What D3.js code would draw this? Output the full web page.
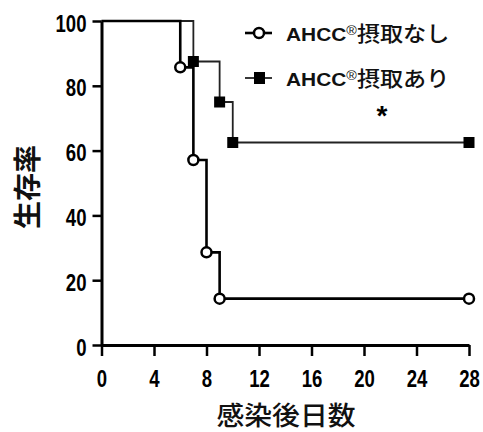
<!DOCTYPE html>
<html>
<head>
<meta charset="utf-8">
<script src="https://cdn.jsdelivr.net/npm/d3@7"></script>
<style>
html,body{margin:0;padding:0;background:#fff;}
svg{display:block;}
</style>
</head>
<body>
<script>
const daysNone = [0, 6, 7, 8, 9, 28];
const survNone = [100, 85.7, 57.1, 28.6, 14.3, 14.3];
const daysAhcc = [0, 7, 9, 10, 28];
const survAhcc = [100, 87.5, 75, 62.5, 62.5];
const seriesNames = ["AHCC", "摂取なし", "摂取あり"];
const xTicks = [0, 4, 8, 12, 16, 20, 24, 28];
const yTicks = [0, 20, 40, 60, 80, 100];
const xTitle = "感染後日数";
const yTitle = "生存率";

const W = 483, H = 432;
const svg = d3.select("body").append("svg").attr("width", W).attr("height", H);

const x = d3.scaleLinear().domain([0, 28]).range([101.5, 469]);
const y = d3.scaleLinear().domain([0, 100]).range([345, 21]);

const tickFont = "'Liberation Sans',Arial,sans-serif";

// axes
const xAxis = svg.append("g").attr("transform", `translate(0,${y(0)})`)
  .call(d3.axisBottom(x).tickValues(xTicks).tickSize(11).tickPadding(5).tickSizeOuter(0));
const yAxis = svg.append("g").attr("transform", `translate(${x(0)},0)`)
  .call(d3.axisLeft(y).tickValues(yTicks).tickSize(9).tickPadding(6).tickSizeOuter(0));
[xAxis, yAxis].forEach(g => {
  g.select(".domain").attr("stroke", "#000").attr("stroke-width", 3);
  g.selectAll(".tick line").attr("stroke", "#000").attr("stroke-width", 2.5);
  g.selectAll(".tick text").attr("fill", "#000")
    .style("font-family", tickFont).style("font-weight", "bold").style("font-size", "23.5px");
});
xAxis.selectAll(".tick text").attr("x", 0).attr("y", 0).attr("dy", 0)
  .attr("transform", "translate(0,42) scale(0.79,1)");
yAxis.selectAll(".tick text").attr("x", 0).attr("dy", 0)
  .attr("transform", "translate(-15,10) scale(0.79,1)");

// lines
const line = d3.line().x(d => x(d[0])).y(d => y(d[1])).curve(d3.curveStepAfter);
const ptsNone = daysNone.map((d, i) => [d, survNone[i]]);
const ptsAhcc = daysAhcc.map((d, i) => [d, survAhcc[i]]);

svg.append("path").datum(ptsAhcc).attr("d", line)
  .attr("fill", "none").attr("stroke", "#222").attr("stroke-width", 1.8);
svg.append("path").datum(ptsNone).attr("d", line)
  .attr("fill", "none").attr("stroke", "#000").attr("stroke-width", 2.6);

// markers
svg.selectAll("rect.m").data(ptsAhcc.slice(1)).enter().append("rect")
  .attr("class", "m")
  .attr("x", d => x(d[0]) - 5.5).attr("y", d => y(d[1]) - 5.5)
  .attr("width", 11).attr("height", 11).attr("fill", "#000");
svg.selectAll("circle.m").data(ptsNone.slice(1)).enter().append("circle")
  .attr("class", "m")
  .attr("cx", d => x(d[0])).attr("cy", d => y(d[1])).attr("r", 5)
  .attr("fill", "#fff").attr("stroke", "#000").attr("stroke-width", 2.5);

// legend
const lg = svg.append("g");
lg.append("line").attr("x1", 245).attr("x2", 272).attr("y1", 33).attr("y2", 33)
  .attr("stroke", "#000").attr("stroke-width", 2.6);
lg.append("circle").attr("cx", 259).attr("cy", 33).attr("r", 5)
  .attr("fill", "#fff").attr("stroke", "#000").attr("stroke-width", 2.5);
lg.append("line").attr("x1", 245).attr("x2", 272).attr("y1", 78).attr("y2", 78)
  .attr("stroke", "#222").attr("stroke-width", 1.8);
lg.append("rect").attr("x", 254).attr("y", 72).attr("width", 11).attr("height", 12).attr("fill", "#000");

function legendText(yy, suffix) {
  const t = lg.append("text").attr("transform", `translate(286,${yy}) scale(1.1,1)`)
    .style("font-family", "'Liberation Sans',Arial,sans-serif").style("font-size", "19px").attr("fill", "#111");
  t.append("tspan").text(seriesNames[0]).style("font-weight", "bold");
  t.append("tspan").text("®").style("font-size", "13px").attr("dy", -6);
  t.append("tspan").text(suffix).attr("dy", 6)
    .style("font-family", "'Noto Sans CJK JP',sans-serif").style("font-weight", "500").style("font-size", "21px");
}
legendText(41, seriesNames[1]);
legendText(86, seriesNames[2]);

// significance
svg.append("text").attr("x", 382).attr("y", 125).attr("text-anchor", "middle")
  .style("font-family", "'Liberation Sans',Arial,sans-serif").style("font-weight", "bold")
  .style("font-size", "28px").text("*");

// axis titles
svg.append("text").attr("transform", "translate(286,425) scale(1.07,1)").attr("text-anchor", "middle")
  .style("font-family", "'Noto Sans CJK JP',sans-serif").style("font-weight", "500")
  .style("font-size", "26px").attr("fill", "#111").text(xTitle);
svg.append("text").attr("transform", "translate(38,187) rotate(-90)").attr("text-anchor", "middle")
  .style("font-family", "'Noto Sans CJK JP',sans-serif").style("font-weight", "bold")
  .style("font-size", "28px").attr("fill", "#111").text(yTitle);
</script>
</body>
</html>
